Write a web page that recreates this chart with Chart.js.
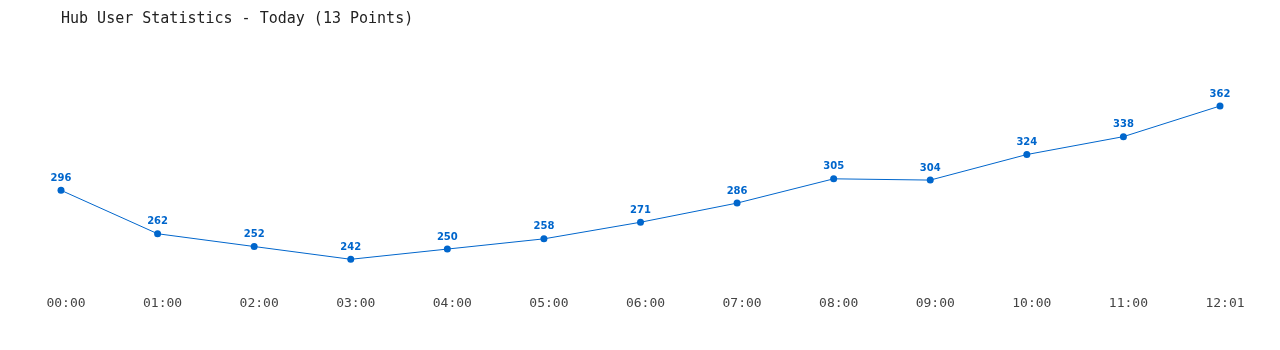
<!DOCTYPE html>
<html>
<head>
<meta charset="utf-8">
<script src="https://cdn.jsdelivr.net/npm/chart.js@4.4.1/dist/chart.umd.min.js"></script>
<style>
    html, body { margin: 0; padding: 0; background: #fff; }
    #wrap { width: 1280px; height: 350px; position: relative; }
</style>
</head>
<body>
<div id="wrap"><canvas id="hubChart"></canvas></div>
<script>
const TITLE = "Hub User Statistics - Today (13 Points)";
const hours = ["00:00", "01:00", "02:00", "03:00", "04:00", "05:00", "06:00", "07:00", "08:00", "09:00", "10:00", "11:00", "12:01"];
const users = [296, 262, 252, 242, 250, 258, 271, 286, 305, 304, 324, 338, 362];
const LINE_COLOR = "#0066cc";

// writes the value above each point
const pointLabels = {
    id: "pointLabels",
    afterDatasetsDraw(chart) {
        const ctx = chart.ctx;
        const meta = chart.getDatasetMeta(0);
        ctx.save();
        ctx.font = "bold 10px 'DejaVu Sans'";
        ctx.fillStyle = LINE_COLOR;
        ctx.textAlign = "center";
        ctx.textBaseline = "bottom";
        meta.data.forEach((pt, i) => {
            ctx.fillText(String(users[i]), pt.x, pt.y - 7);
        });
        ctx.restore();
    }
};

new Chart(document.getElementById("hubChart"), {
    type: "line",
    data: {
        labels: hours,
        datasets: [{
            data: users,
            borderColor: LINE_COLOR,
            backgroundColor: LINE_COLOR,
            borderWidth: 1,
            pointRadius: 3.5,
            pointBorderWidth: 0,
            tension: 0
        }]
    },
    options: {
        responsive: true,
        maintainAspectRatio: false,
        animation: false,
        layout: { padding: { left: 61, right: 60, top: 0, bottom: 31 } },
        plugins: {
            legend: { display: false },
            tooltip: { enabled: false },
            title: {
                display: true,
                text: TITLE,
                align: "start",
                color: "#222",
                font: { family: "'DejaVu Sans Mono'", size: 15, weight: "normal" },
                padding: { top: 10, bottom: 55 }
            }
        },
        scales: {
            y: { display: false, min: 220, max: 380 },
            x: {
                offset: false,
                grid: { display: false, drawTicks: false },
                border: { display: false },
                ticks: {
                    color: "#444",
                    padding: 8,
                    labelOffset: 5,
                    maxRotation: 0,
                    autoSkip: false,
                    font: { family: "'DejaVu Sans Mono'", size: 13 }
                }
            }
        }
    },
    plugins: [pointLabels]
});
</script>
</body>
</html>
